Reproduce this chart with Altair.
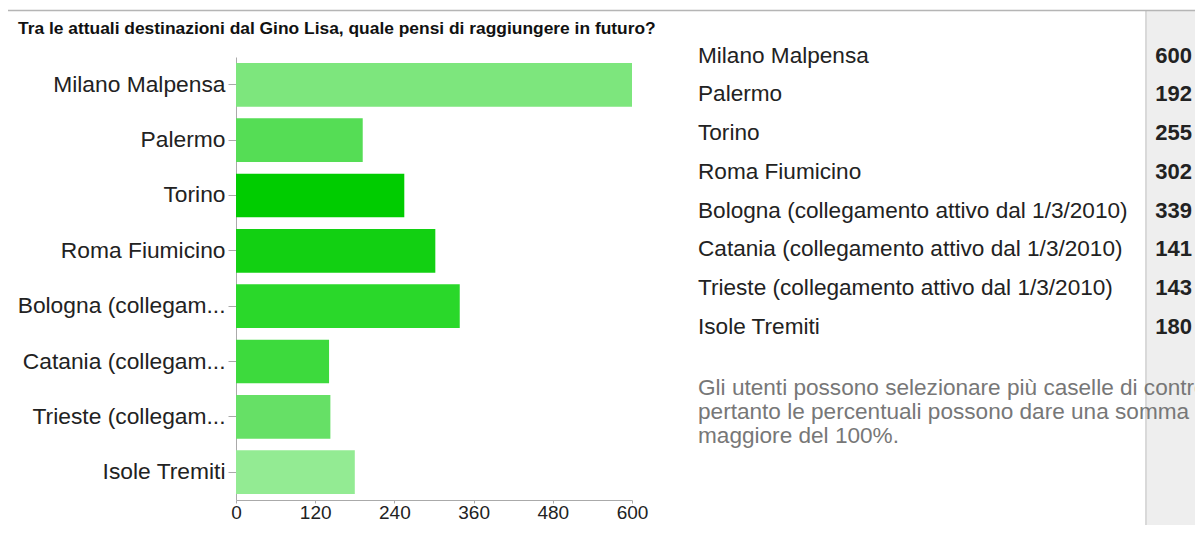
import altair as alt
import pandas as pd

# ---- data ----
full_labels = [
    "Milano Malpensa",
    "Palermo",
    "Torino",
    "Roma Fiumicino",
    "Bologna (collegamento attivo dal 1/3/2010)",
    "Catania (collegamento attivo dal 1/3/2010)",
    "Trieste (collegamento attivo dal 1/3/2010)",
    "Isole Tremiti",
]
axis_labels = [
    "Milano Malpensa",
    "Palermo",
    "Torino",
    "Roma Fiumicino",
    "Bologna (collegam...",
    "Catania (collegam...",
    "Trieste (collegam...",
    "Isole Tremiti",
]
counts = [600, 192, 255, 302, 339, 141, 143, 180]
bar_colors = ["#7de67d", "#55dd55", "#00cc00", "#12d012", "#2ad82a", "#3dda3d", "#66e066", "#93eb93"]
x_ticks = [0, 120, 240, 360, 480, 600]
title_text = "Tra le attuali destinazioni dal Gino Lisa, quale pensi di raggiungere in futuro?"
note_text = ("Gli utenti possono selezionare più caselle di controllo,\n"
             "pertanto le percentuali possono dare una somma\n"
             "maggiore del 100%.")

df = pd.DataFrame({
    "label": full_labels,
    "short": axis_labels,
    "count": counts,
    "row": list(range(len(full_labels))),
})

FONT = "Liberation Sans"
one = alt.Data(values=[{}])

# view origin is at page (236, 57)
gray_col = alt.Chart(one).mark_rect(color="#eeeeee").encode(
    x=alt.value(911), x2=alt.value(970), y=alt.value(-46), y2=alt.value(480)
)
col_line = alt.Chart(one).mark_rule(color="#cccccc", strokeWidth=1.5).encode(
    x=alt.value(910), y=alt.value(-46), y2=alt.value(480)
)
top_line = alt.Chart(one).mark_rule(color="#b5b5b5", strokeWidth=1.5).encode(
    x=alt.value(-230), x2=alt.value(970), y=alt.value(-46.5)
)

bars = alt.Chart(df).mark_bar().encode(
    x=alt.X("count:Q", scale=alt.Scale(domain=[0, 600], nice=False),
            axis=alt.Axis(values=x_ticks, title=None, grid=False, labelFontSize=19,
                          labelColor="#222222", labelFont=FONT, domainColor="#aaaaaa",
                          tickColor="#aaaaaa", tickSize=3, labelPadding=0,
                          labelFlush=False)),
    y=alt.Y("short:N", sort=axis_labels,
            scale=alt.Scale(paddingInner=0.21, paddingOuter=0.108),
            axis=alt.Axis(title=None, labelFontSize=22.8, labelColor="#222222",
                          labelFont=FONT, domainColor="#aaaaaa", tickColor="#aaaaaa",
                          tickSize=8, labelPadding=3, labelLimit=300)),
    color=alt.Color("short:N", scale=alt.Scale(domain=axis_labels, range=bar_colors), legend=None),
)

title = alt.Chart(one).mark_text(
    text=title_text, font=FONT, fontSize=17.4, fontWeight="bold",
    align="left", baseline="alphabetic", color="#111111"
).encode(x=alt.value(-218), y=alt.value(-23.5))

row_scale = alt.Scale(domain=[0, 7], range=[5.7, 277])
table_labels = alt.Chart(df).mark_text(
    font=FONT, fontSize=22.6, align="left", baseline="alphabetic", color="#222222"
).encode(
    x=alt.value(462),
    y=alt.Y("row:Q", scale=row_scale, axis=None),
    text="label:N",
)
table_values = alt.Chart(df).mark_text(
    font=FONT, fontSize=22, fontWeight="bold", align="right", baseline="alphabetic", color="#222222"
).encode(
    x=alt.value(956),
    y=alt.Y("row:Q", scale=row_scale, axis=None),
    text="count:Q",
)
note = alt.Chart(one).mark_text(
    text=note_text, font=FONT, fontSize=22.6, align="left", baseline="alphabetic",
    color="#777777", lineBreak="\n", lineHeight=24.2
).encode(x=alt.value(462), y=alt.value(338))

chart = alt.layer(
    gray_col, col_line, top_line, bars, title, table_labels, table_values, note
).resolve_scale(y="independent").properties(
    width=396, height=443,
    padding={"left": 228, "top": 49, "right": 563, "bottom": 25},
    autosize=alt.AutoSizeParams(type="none"),
    background="white",
).configure_view(stroke=None)

chart.save("out.html", embed_options={"renderer": "svg", "actions": False})
